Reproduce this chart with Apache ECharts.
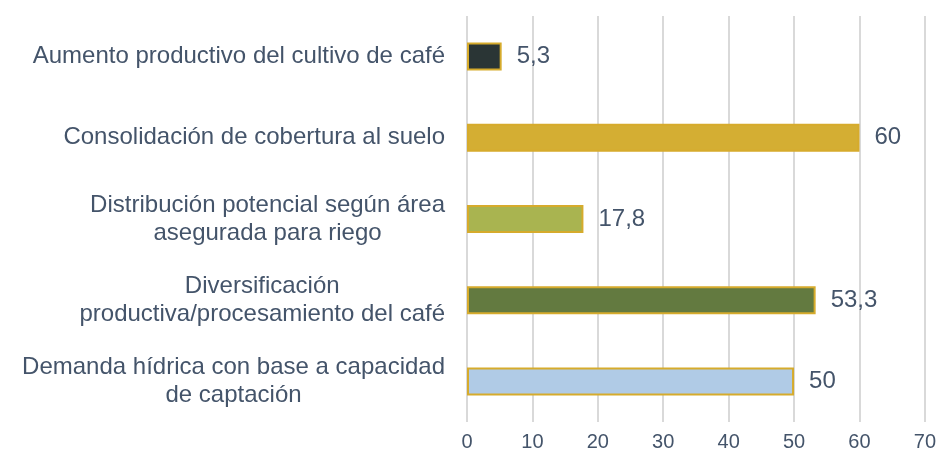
<!DOCTYPE html>
<html>
<head>
<meta charset="utf-8">
<script src="https://cdn.jsdelivr.net/npm/echarts@6/dist/echarts.min.js"></script>
<style>
  html, body { margin: 0; padding: 0; background: #fff; }
  #chart { width: 939px; height: 461px; }
</style>
</head>
<body>
<div id="chart"></div>
<script>
const categories = [
  "Aumento productivo del cultivo de café",
  "Consolidación de cobertura al suelo",
  "Distribución potencial según área\nasegurada para riego",
  "Diversificación\nproductiva/procesamiento del café",
  "Demanda hídrica con base a capacidad\nde captación",
];
const values = [5.3, 60, 17.8, 53.3, 50];
const barColors = ["#2a3535", "#d4ae33", "#a9b450", "#637a40", "#b0cbe6"];
const xTicks = [0, 10, 20, 30, 40, 50, 60, 70];

const textColor = "#44546a";
const fontFamily = "'Liberation Sans', Arial, sans-serif";

const chart = echarts.init(document.getElementById("chart"));

chart.setOption({
  animation: false,
  grid: { left: 467, right: 14, top: 16, bottom: 39 },
  xAxis: {
    type: "value",
    min: xTicks[0],
    max: xTicks[xTicks.length - 1],
    interval: 10,
    axisLine: { show: false },
    axisTick: { show: false },
    splitLine: { lineStyle: { color: "#d9d9d9", width: 2 } },
    axisLabel: { color: textColor, fontSize: 20, fontFamily, margin: 10 },
  },
  yAxis: {
    type: "category",
    inverse: true,
    data: categories,
    axisLine: { show: false },
    axisTick: { show: false },
    axisLabel: {
      margin: 22,
      formatter: (value) => value.split("\n").map((line) => `{c|${line}}`).join("\n"),
      rich: {
        c: { align: "center", color: textColor, fontSize: 24, lineHeight: 28, fontFamily },
      },
    },
  },
  series: [
    {
      type: "bar",
      barWidth: 28,
      data: values.map((v, i) => ({ value: v, itemStyle: { color: barColors[i] } })),
      itemStyle: { borderColor: "#d6ab2c", borderWidth: 2 },
      label: {
        show: true,
        position: "right",
        distance: 15,
        color: textColor,
        fontSize: 24,
        fontFamily,
        formatter: (p) => String(p.value).replace(".", ","),
      },
    },
  ],
});
</script>
</body>
</html>
